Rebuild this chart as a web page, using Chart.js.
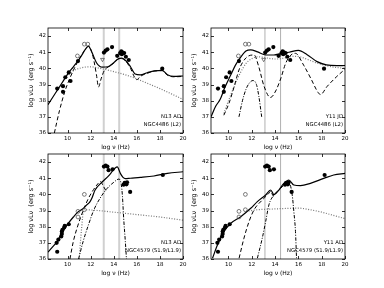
<!DOCTYPE html>
<html>
<head>
<meta charset="utf-8">
<script src="https://cdn.jsdelivr.net/npm/chart.js@4.4.0/dist/chart.umd.min.js"></script>
<style>
  body { margin: 0; background: #fff; width: 384px; height: 288px; overflow: hidden; position: relative; }
  canvas { position: absolute; }
</style>
</head>
<body>
<canvas id="p1"></canvas>
<canvas id="p2"></canvas>
<canvas id="p3"></canvas>
<canvas id="p4"></canvas>
<script>
// tick labels
const xTicks = [10, 12, 14, 16, 18, 20];
const yTicks = [36, 37, 38, 39, 40, 41, 42];
const bandNu = [13.13, 14.47];

// NGC 4486 photometry
const m87Nu = [9.1, 9.6, 9.6, 9.8, 10.1, 10.25, 10.9, 13.15, 13.3, 13.45, 13.85, 14.3, 14.55, 14.65, 14.75, 14.7, 14.9, 15.05, 15.3, 18.2];
const m87L = [38.75, 38.9, 38.55, 39.45, 39.75, 39.22, 40.45, 40.98, 41.1, 41.18, 41.32, 40.78, 40.95, 41.05, 41.0, 40.88, 40.95, 40.72, 40.52, 39.98];
const m87OpenNu = [10.85, 11.45, 11.75];
const m87OpenL = [40.77, 41.5, 41.5];
const m87LimNu = [13.02];
const m87LimL = [40.55];

// NGC 4579 photometry
const n4579Nu = [9.1, 9.05, 9.2, 9.45, 9.5, 9.5, 9.55, 9.7, 9.75, 10.1, 13.15, 13.3, 13.45, 13.55, 13.9, 14.85, 14.95, 15.05, 15.15, 15.1, 15.42, 18.25];
const n4579L = [36.45, 37.0, 37.2, 37.4, 37.55, 37.7, 37.8, 37.95, 38.05, 38.15, 41.72, 41.78, 41.72, 41.5, 41.55, 40.6, 40.72, 40.7, 40.75, 40.62, 40.15, 41.2];
const n4579OpenNu = [10.9, 11.45, 10.9, 11.45];
const n4579OpenL = [38.95, 39.05, 38.6, 40.0];

// N13 AD, NGC4486
const p1TotNu = [8.3, 8.7, 9.2, 9.6, 10.0, 10.5, 10.93, 11.3, 11.5, 11.8, 12.1, 12.5, 12.8, 13.0, 13.5, 14.0, 14.4, 14.7, 15.05, 15.45, 15.85, 16.3, 16.9, 17.5, 18.2, 18.65, 19.2, 20];
const p1TotL = [37.75, 38.2, 38.75, 39.2, 39.65, 40.1, 40.5, 40.9, 41.14, 41.38, 41.0, 40.35, 40.12, 40.08, 40.1, 40.35, 40.6, 40.63, 40.47, 40.1, 39.65, 39.6, 39.73, 39.85, 39.88, 39.6, 39.5, 39.53];
const p1JetNu = [8.85, 9.3, 9.75, 10.2, 10.65, 11.1, 11.5, 11.8, 12.1, 12.3, 12.5, 12.68, 12.9, 13.2, 13.5, 14.0, 14.4, 14.7, 15.05, 15.45, 15.8, 16.0, 16.3, 16.9, 17.5, 18.2, 18.65, 19.2, 20];
const p1JetL = [36.0, 37.4, 38.55, 39.4, 40.1, 40.7, 41.15, 41.36, 41.0, 40.4, 39.6, 38.85, 39.35, 39.9, 40.08, 40.33, 40.58, 40.6, 40.43, 40.0, 39.45, 39.3, 39.5, 39.7, 39.83, 39.86, 39.58, 39.48, 39.5];
const p1AdafNu = [10.1, 10.5, 11.0, 11.9, 13.0, 14.0, 15.0, 16.0, 17.0, 18.0, 19.0, 20.0];
const p1AdafL = [39.6, 39.85, 40.0, 40.1, 39.97, 39.8, 39.6, 39.35, 39.05, 38.75, 38.42, 38.08];

// Y11 JD, NGC4486
const p2TotNu = [8.5, 8.9, 9.3, 9.65, 10.2, 10.6, 11.05, 11.5, 11.9, 12.5, 13.2, 13.9, 14.5, 15.2, 16.0, 16.75, 17.6, 18.4, 19.3, 20];
const p2TotL = [37.0, 37.65, 38.1, 38.75, 39.6, 40.2, 40.7, 41.08, 41.15, 41.02, 40.83, 40.83, 40.92, 41.0, 41.12, 40.85, 40.42, 40.22, 40.17, 40.18];
const p2JetNu = [9.6, 10.05, 10.5, 10.9, 11.5, 12.2, 12.6, 13.05, 13.6, 14.05, 14.5, 14.9, 15.35, 15.75, 16.45, 17.05, 17.7, 17.9, 18.45, 19.3, 20];
const p2JetL = [37.1, 37.85, 38.9, 39.9, 40.65, 40.83, 40.1, 38.9, 38.2, 38.6, 39.4, 40.3, 40.82, 40.93, 40.2, 39.4, 38.5, 38.38, 38.87, 39.5, 39.95];
const p2AdafNu = [9.6, 10.0, 10.5, 11.0, 11.5, 12.0, 12.5, 13.0, 13.5, 14.0, 14.5, 15.0, 15.6, 16.2, 16.8, 17.5, 18.2, 19.0, 20.0];
const p2AdafL = [37.2, 38.0, 38.9, 39.7, 40.3, 40.6, 40.72, 40.68, 40.62, 40.58, 40.6, 40.68, 40.75, 40.7, 40.55, 40.35, 40.2, 40.08, 40.0];
const p2DiskNu = [10.9, 11.2, 11.5, 11.8, 12.1, 12.4, 12.6, 12.85];
const p2DiskL = [37.0, 38.0, 38.7, 39.1, 39.25, 39.0, 38.3, 37.0];

// N13 AD, NGC4579
const p3TotNu = [8.3, 8.7, 9.0, 9.5, 10.05, 10.5, 10.93, 11.3, 11.66, 11.9, 12.1, 12.38, 12.97, 13.55, 13.9, 14.15, 14.3, 14.57, 14.8, 15.0, 15.44, 16.3, 17.48, 18.65, 20];
const p3TotL = [36.42, 36.75, 37.0, 37.6, 38.2, 38.6, 38.93, 39.1, 39.35, 39.5, 39.76, 40.27, 40.75, 41.15, 41.45, 41.65, 41.7, 41.3, 41.05, 40.97, 41.0, 41.05, 41.14, 41.3, 41.4];
const p3JetNu = [10.2, 10.5, 10.9, 11.35, 11.8, 12.25, 12.65, 12.85, 13.1, 13.35];
const p3JetL = [36.0, 37.1, 38.1, 39.0, 39.75, 40.3, 40.68, 40.8, 40.5, 40.2];
const p3DiskNu = [10.95, 11.35, 11.8, 12.25, 12.8, 13.4, 14.0, 14.45, 14.65, 14.75, 14.86, 15.0, 15.1];
const p3DiskL = [36.0, 37.1, 38.1, 39.0, 39.75, 40.35, 40.75, 40.95, 40.6, 39.9, 38.5, 37.1, 36.0];
const p3AdafNu = [11.0, 11.2, 11.4, 14.0, 16.0, 18.0, 20.0];
const p3AdafL = [36.0, 37.8, 39.05, 38.9, 38.75, 38.6, 38.4];

// Y11 AD, NGC4579
const p4TotNu = [8.63, 9.06, 9.62, 10.2, 11.05, 11.91, 12.48, 13.19, 13.62, 13.9, 14.33, 14.75, 15.18, 15.61, 16.18, 17.03, 18.18, 19.03, 20];
const p4TotL = [36.05, 36.88, 37.7, 38.21, 38.62, 39.14, 39.55, 39.96, 40.27, 39.98, 40.27, 40.68, 40.89, 40.58, 40.54, 40.68, 40.99, 41.2, 41.3];
const p4JetNu = [10.91, 11.33, 11.76, 12.19, 12.9, 13.47, 13.62, 13.85, 14.1];
const p4JetL = [36.05, 37.29, 38.31, 39.04, 39.65, 40.07, 40.2, 39.9, 40.1];
const p4DiskNu = [12.48, 12.9, 13.19, 13.47, 13.9, 14.47, 14.9, 15.15, 15.47, 15.61, 15.75, 15.84];
const p4DiskL = [36.05, 37.29, 38.31, 39.35, 39.96, 40.37, 40.68, 40.8, 39.96, 38.93, 37.7, 36.05];
const p4AdafNu = [11.5, 12.5, 14.0, 16.0, 17.0, 18.0, 19.0, 20.0];
const p4AdafL = [38.95, 39.05, 39.1, 39.15, 39.05, 38.9, 38.7, 38.5];

const zip = (xs, ys) => xs.map((x, i) => ({ x: x, y: ys[i] }));

const frame = {
    id: 'frame',
    afterDatasetsDraw(chart, args, o) {
        const { ctx, chartArea: a, scales: { x, y } } = chart;
        ctx.save();
        ctx.strokeStyle = '#000';
        ctx.lineWidth = 0.8;
        ctx.strokeRect(a.left, a.top, a.right - a.left, a.bottom - a.top);
        ctx.beginPath();
        xTicks.forEach(v => {
            const px = Math.round(x.getPixelForValue(v)) + 0.5;
            ctx.moveTo(px, a.bottom); ctx.lineTo(px, a.bottom - 3);
            ctx.moveTo(px, a.top); ctx.lineTo(px, a.top + 3);
        });
        yTicks.forEach(v => {
            const py = Math.round(y.getPixelForValue(v)) + 0.5;
            ctx.moveTo(a.left, py); ctx.lineTo(a.left + 3, py);
            ctx.moveTo(a.right, py); ctx.lineTo(a.right - 3, py);
        });
        ctx.stroke();
        ctx.fillStyle = '#000';
        ctx.font = '5.3px "DejaVu Sans"';
        ctx.textAlign = 'right';
        ctx.textBaseline = 'middle';
        ctx.fillText(o.model, a.right - 2, a.bottom - 16);
        ctx.fillText(o.galaxy, a.right - 2, a.bottom - 8);
        ctx.restore();
    }
};

function curve(xs, ys, dash, color, width) {
    return {
        type: 'line', data: zip(xs, ys), showLine: true, pointRadius: 0,
        borderColor: color || '#000', borderWidth: width || 1, borderDash: dash || [],
        cubicInterpolationMode: 'monotone', fill: false
    };
}

function band(nu, wide) {
    return {
        type: 'line', data: [{ x: nu, y: 36 }, { x: nu, y: 42.5 }], showLine: true, pointRadius: 0,
        borderColor: wide ? '#d0d0d0' : '#b0b0b0', borderWidth: wide ? 2 : 1
    };
}

function makePanel(id, box, xmin, sets, notes, wide) {
    const cv = document.getElementById(id);
    const padL = 22, padR = 6, padT = 6, padB = 18;
    cv.width = padL + box.r - box.l + padR;
    cv.height = padT + box.b - box.t + padB;
    cv.style.left = (box.l - padL) + 'px';
    cv.style.top = (box.t - padT) + 'px';

    const datasets = [
        { data: zip(sets.obsNu, sets.obsL), pointRadius: 2.1, pointBackgroundColor: '#000', pointBorderWidth: 0 },
        { data: zip(sets.openNu, sets.openL), pointRadius: 1.9, pointBackgroundColor: 'rgba(0,0,0,0)', pointBorderColor: '#444', pointBorderWidth: 0.7 }
    ];
    if (sets.limNu) {
        datasets.push({ data: zip(sets.limNu, sets.limL), pointStyle: 'triangle', rotation: 180, pointRadius: 2.2, pointBackgroundColor: 'rgba(0,0,0,0)', pointBorderColor: '#444', pointBorderWidth: 0.7 });
    }
    datasets.push(curve(sets.totNu, sets.totL, [], '#000', 1.2));
    if (sets.jetNu) datasets.push(curve(sets.jetNu, sets.jetL, [4, 2.5]));
    if (sets.diskNu) datasets.push(curve(sets.diskNu, sets.diskL, [3.5, 1.5, 1, 1.5]));
    if (sets.adafNu) datasets.push(curve(sets.adafNu, sets.adafL, [1, 1.6], '#777', 1.2));
    bandNu.forEach(nu => datasets.push(band(nu, wide)));

    const tickFont = { family: 'DejaVu Sans', size: 5.5 };
    return new Chart(cv.getContext('2d'), {
        type: 'scatter',
        data: { datasets: datasets },
        options: {
            responsive: false, animation: false, events: [],
            layout: { padding: { top: padT, right: padR, left: 0, bottom: 0 } },
            plugins: { legend: { display: false }, tooltip: { enabled: false }, frame: notes },
            scales: {
                x: {
                    type: 'linear', min: xmin, max: 20,
                    grid: { display: false, drawTicks: false }, border: { display: false },
                    ticks: { font: tickFont, color: '#000', padding: 2, maxRotation: 0 },
                    afterBuildTicks: s => { s.ticks = xTicks.map(v => ({ value: v })); },
                    afterFit: s => { s.height = padB; },
                    title: { display: true, text: 'log \u03bd (Hz)', font: { family: 'DejaVu Sans', size: 6 }, color: '#000', padding: 0 }
                },
                y: {
                    type: 'linear', min: 36, max: 42.5,
                    grid: { display: false, drawTicks: false }, border: { display: false },
                    ticks: { font: tickFont, color: '#000', padding: 2 },
                    afterBuildTicks: s => { s.ticks = yTicks.map(v => ({ value: v })); },
                    afterFit: s => { s.width = padL; },
                    title: { display: true, text: 'log \u03bdL\u03bd  (erg s\u207b\u00b9)', font: { family: 'DejaVu Sans', size: 6.5 }, color: '#000', padding: { top: 1, bottom: 0 } }
                }
            }
        },
        plugins: [frame]
    });
}

makePanel('p1', { l: 48, r: 183, t: 28, b: 133 }, 8.3, {
    obsNu: m87Nu, obsL: m87L, openNu: m87OpenNu, openL: m87OpenL, limNu: m87LimNu, limL: m87LimL,
    totNu: p1TotNu, totL: p1TotL, jetNu: p1JetNu, jetL: p1JetL, adafNu: p1AdafNu, adafL: p1AdafL
}, { model: 'N13 AD', galaxy: 'NGC4486 (L2)' }, true);

makePanel('p2', { l: 211, r: 345, t: 28, b: 133 }, 8.5, {
    obsNu: m87Nu, obsL: m87L, openNu: m87OpenNu, openL: m87OpenL, limNu: m87LimNu, limL: m87LimL,
    totNu: p2TotNu, totL: p2TotL, jetNu: p2JetNu, jetL: p2JetL, adafNu: p2AdafNu, adafL: p2AdafL,
    diskNu: p2DiskNu, diskL: p2DiskL
}, { model: 'Y11 JD', galaxy: 'NGC4486 (L2)' }, false);

makePanel('p3', { l: 48, r: 183, t: 154, b: 259 }, 8.3, {
    obsNu: n4579Nu, obsL: n4579L, openNu: n4579OpenNu, openL: n4579OpenL,
    totNu: p3TotNu, totL: p3TotL, jetNu: p3JetNu, jetL: p3JetL, adafNu: p3AdafNu, adafL: p3AdafL,
    diskNu: p3DiskNu, diskL: p3DiskL
}, { model: 'N13 AD', galaxy: 'NGC4579 (S1.9/L1.9)' }, true);

makePanel('p4', { l: 211, r: 345, t: 154, b: 259 }, 8.5, {
    obsNu: n4579Nu, obsL: n4579L, openNu: n4579OpenNu, openL: n4579OpenL,
    totNu: p4TotNu, totL: p4TotL, jetNu: p4JetNu, jetL: p4JetL, adafNu: p4AdafNu, adafL: p4AdafL,
    diskNu: p4DiskNu, diskL: p4DiskL
}, { model: 'Y11 AD', galaxy: 'NGC4579 (S1.9/L1.9)' }, false);
</script>
</body>
</html>
